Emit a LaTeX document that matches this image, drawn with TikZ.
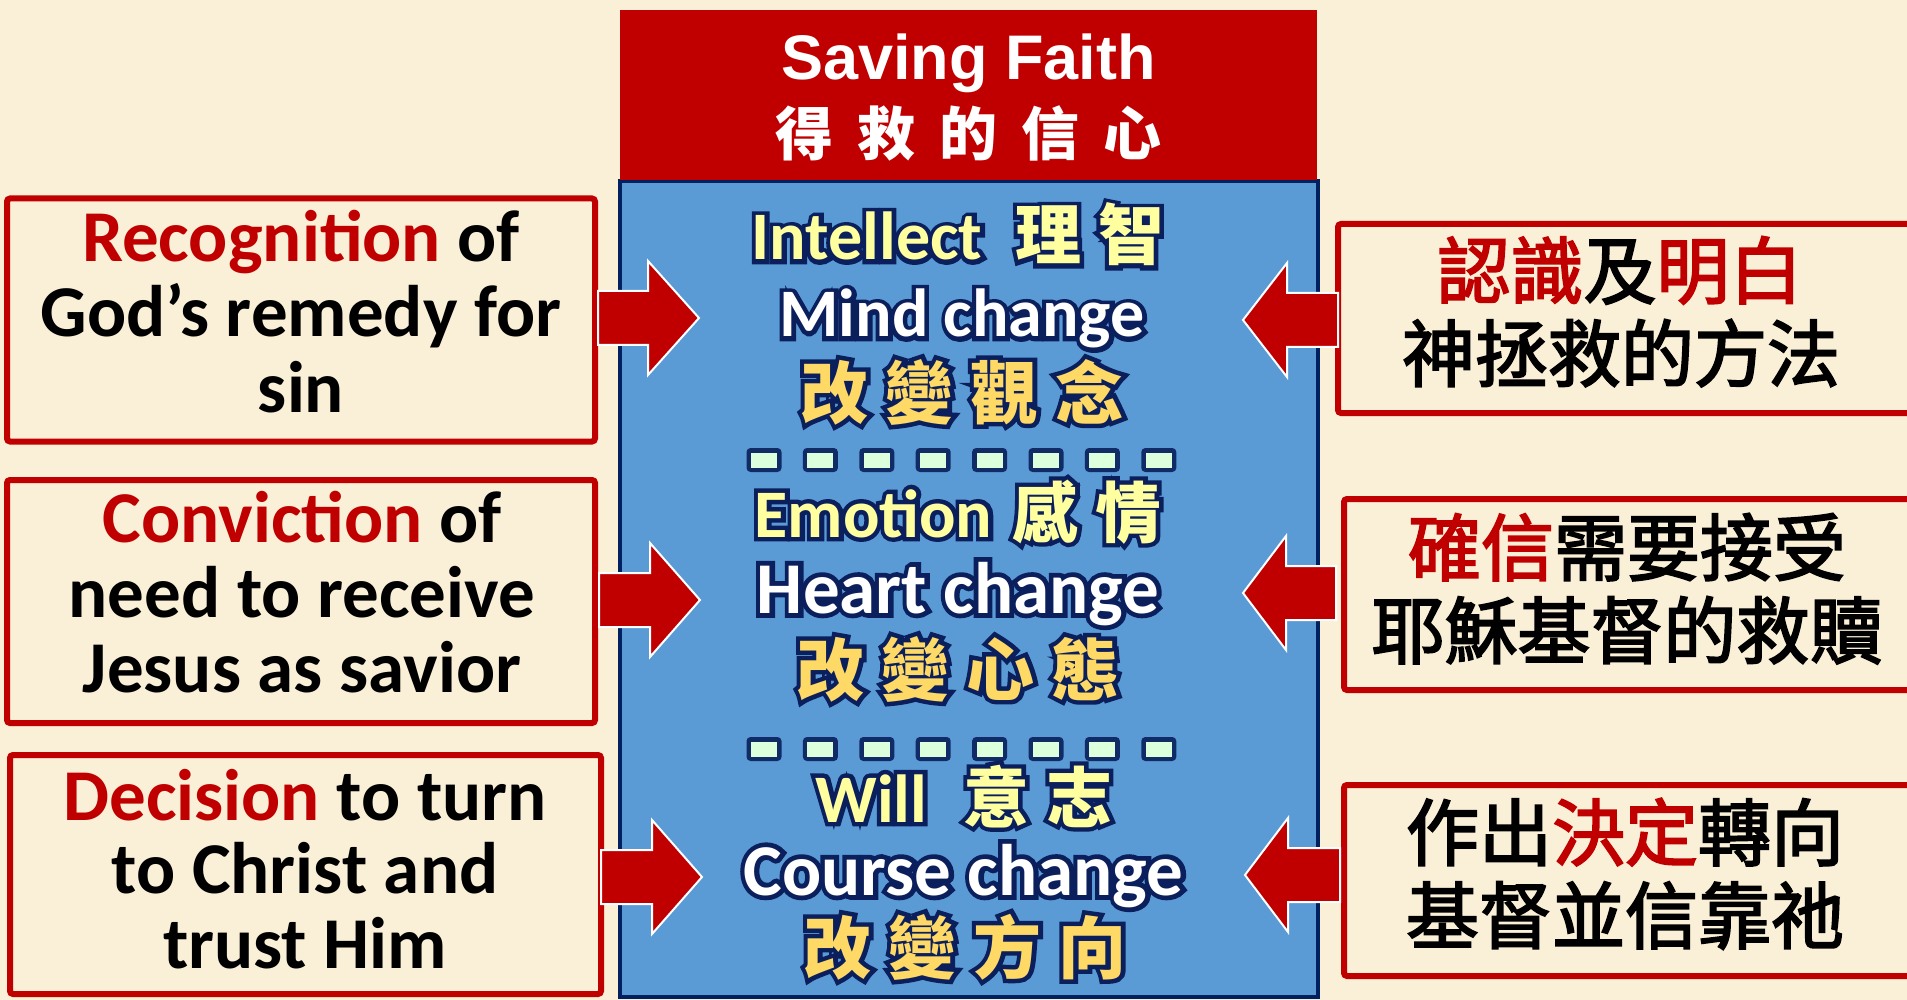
\documentclass[tikz,border=0pt]{standalone}
\usepackage{fontspec}
\setmainfont{Carlito}
\newfontfamily\cjk{Noto Sans CJK TC}
\newfontfamily\cjkmed{Noto Sans CJK TC}[FakeBold=2.5]
\newfontfamily\cjkglow{Noto Sans CJK TC}[FakeBold=13]
\newfontfamily\engglow{Carlito}[FakeBold=13]
\newfontfamily\arialf{Liberation Sans}
\usetikzlibrary{calc}
\definecolor{bg}{HTML}{FAF0D7}
\definecolor{dred}{HTML}{C00000}
\definecolor{navy}{HTML}{0A1F5C}
\definecolor{boxnavy}{HTML}{002060}
\definecolor{sky}{HTML}{5B9BD5}
\definecolor{pale}{HTML}{FFFFA0}
\definecolor{gold}{HTML}{FFD966}
\definecolor{mint}{HTML}{DCFFDC}
\newcommand\engf[1]{\normalfont\bfseries\fontsize{#1}{#1}\selectfont}
\newcommand\cjkf[1]{\cjk\bfseries\fontsize{#1}{#1}\selectfont}
\newcommand\eglow[1]{\engglow\bfseries\fontsize{#1}{#1}\selectfont}
\newcommand\cglow[1]{\cjkglow\bfseries\fontsize{#1}{#1}\selectfont}
\newcommand\cjkr[1]{\cjkmed\fontsize{#1}{#1}\selectfont}
% glowing line: name, position, colour, content (uses \ef and \cf)
\newcommand\gline[4]{%
  \node[ctr, text=navy] (#1g) at (#2) {\let\ef\eglow\let\cf\cglow #4};
  \node[ctr, text=#3] (#1) at (#2) {\let\ef\engf\let\cf\cjkf #4};}
\tikzset{
  redbox/.style={draw=dred, line width=6pt, rounded corners=3pt, inner sep=0pt, outer sep=0pt},
  faithbox/.style={draw=boxnavy, fill=sky, line width=4pt, inner sep=0pt, outer sep=0pt,
    minimum width=698pt, minimum height=816pt},
  titlebox/.style={fill=dred, inner sep=0pt, outer sep=0pt, minimum width=697pt, minimum height=170pt},
  titletxt/.style={anchor=base, inner sep=0pt, text=white},
  ctr/.style={anchor=base, inner sep=0pt},
  ltxt/.style={anchor=base, inner sep=0pt, font=\engf{73}},
  rtxt/.style={anchor=base, inner sep=0pt, font=\cjkr{73}},
  barrow/.style={fill=dred, draw=white, line width=2pt, line join=miter},
  dashglow/.style={fill=navy, opacity=0.9, rounded corners=4pt, inner sep=0pt,
    minimum width=35pt, minimum height=24pt},
  dashsq/.style={fill=mint, inner sep=0pt, minimum width=26pt, minimum height=15pt},
  pics/barr/.style args={#1/#2/#3}{code={
    \draw[barrow] (#1,-27) -- (#2,-27) -- (#2,-57) -- (#3,0) -- (#2,57) -- (#2,27) -- (#1,27) -- cycle;
  }},
}
\begin{document}
\begin{tikzpicture}[x=1pt,y=-1pt]
\useasboundingbox (0,0) rectangle (1907,1000);
\fill[bg] (0,0) rectangle (1907,1000);

% central box and title
\node[faithbox] (faith) at (969,589) {};
\node[titlebox] (title) at (968.5,95) {};
\node[titletxt, font=\arialf\bfseries\fontsize{63}{63}\selectfont] (t1) at (968.5,80) {Saving Faith};
\node[titletxt, font=\cjkf{58}] (t2) at (968.5,156) {得\hspace{24pt}救\hspace{24pt}的\hspace{24pt}信\hspace{24pt}心};

% central texts
\gline{c1}{958,260}{pale}{\ef{68}Intellect\hspace{33pt}\cf{66}理\hspace{17pt}智}
\gline{c2}{962,337}{white}{\ef{68}Mind change}
\gline{c3}{962,418}{gold}{\cf{68}改\hspace{17pt}變\hspace{17pt}觀\hspace{17pt}念}
\gline{c4}{958,537}{pale}{\ef{68}Emotion\hspace{20pt}\cf{66}感\hspace{17pt}情}
\gline{c5}{958,613}{white}{\ef{73}Heart change}
\gline{c6}{958,695}{gold}{\cf{68}改\hspace{17pt}變\hspace{17pt}心\hspace{17pt}態}
\gline{c7}{964,822}{pale}{\ef{68}Will\hspace{36pt}\cf{66}意\hspace{17pt}志}
\gline{c8}{963.5,895}{white}{\ef{73}Course change}
\gline{c9}{965,973}{gold}{\cf{68}改\hspace{17pt}變\hspace{17pt}方\hspace{17pt}向}

% dash rows
\foreach \i in {0,...,7} {
  \node[dashglow] (ga\i) at ({764+56.4*\i},460) {};
  \node[dashsq] (da\i) at ({764+56.4*\i},460) {};
  \node[dashglow] (gb\i) at ({764+56.4*\i},749) {};
  \node[dashsq] (db\i) at ({764+56.4*\i},749) {};
}

% left boxes
\node[redbox, minimum width=588pt, minimum height=243pt] (L1) at (301,320) {};
\node[ltxt] (L1a) at (301,262) {\textcolor{dred}{Recognition} of};
\node[ltxt] (L1b) at (301,337) {God’s remedy for};
\node[ltxt] (L1c) at (301,412) {sin};

\node[redbox, minimum width=588pt, minimum height=243pt] (L2) at (301,601.5) {};
\node[ltxt] (L2a) at (302,542) {\textcolor{dred}{Conviction} of};
\node[ltxt] (L2b) at (302,617) {need to receive};
\node[ltxt] (L2c) at (302,692) {Jesus as savior};

\node[redbox, minimum width=591pt, minimum height=239pt] (L3) at (305.5,874.5) {};
\node[ltxt] (L3a) at (305,820) {\textcolor{dred}{Decision} to turn};
\node[ltxt] (L3b) at (305,893) {to Christ and};
\node[ltxt] (L3c) at (305,968) {trust Him};

% right boxes
\node[redbox, minimum width=574pt, minimum height=189pt] (R1) at (1625,318.5) {};
\node[rtxt] (R1a) at (1620,298) {\textcolor{dred}{認識}及\textcolor{dred}{明白}};
\node[rtxt] (R1b) at (1621,381) {神拯救的方法};

\node[redbox, minimum width=568pt, minimum height=191pt] (R2) at (1628,594.5) {};
\node[rtxt] (R2a) at (1627,575) {\textcolor{dred}{確信}需要接受};
\node[rtxt] (R2b) at (1627,658) {耶穌基督的救贖};

\node[redbox, minimum width=568pt, minimum height=191pt] (R3) at (1628,880.5) {};
\node[rtxt] (R3a) at (1625,860) {作出\textcolor{dred}{決定}轉向};
\node[rtxt] (R3b) at (1625,943) {基督並信靠祂};

% block arrows
\pic at ($(L1.east)+(0,-2)$) {barr={3/53/104}};
\pic at ($(L2.east)+(0,-1.5)$) {barr={4/55/105}};
\pic at ($(L3.east)+(0,2.5)$) {barr={0/51/101}};
\pic at ($(R1.west)+(0,1.5)$) {barr={0/-51/-95}};
\pic at ($(R2.west)+(0,-1.5)$) {barr={-8/-58/-101}};
\pic at ($(R3.west)+(0,-5.5)$) {barr={-4/-56/-99}};
\end{tikzpicture}
\end{document}
